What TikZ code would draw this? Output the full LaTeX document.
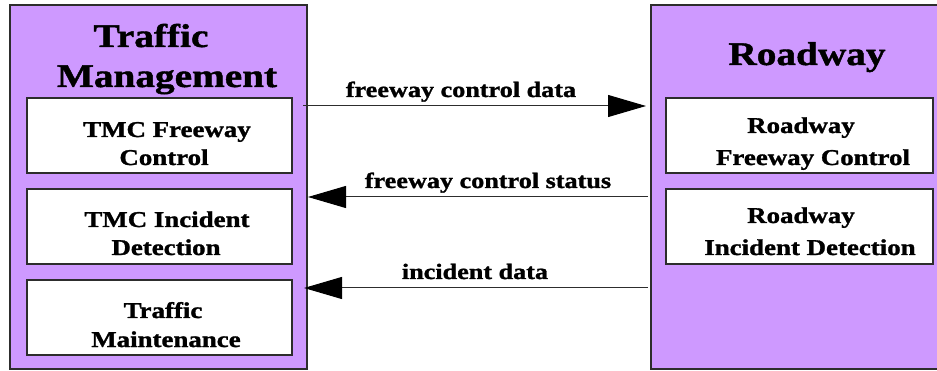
\documentclass[tikz,border=0pt]{standalone}
\usepackage{fontspec}
\newfontfamily\tbf{Liberation Serif}[FakeStretch=1.19,FakeBold=1.3]
\usetikzlibrary{arrows.meta}
\definecolor{lav}{RGB}{206,153,255}
\definecolor{edge}{RGB}{45,45,45}
\tikzset{
  bigbox/.style={draw=edge, fill=lav, line width=1.3pt, rectangle, inner sep=0pt, outer sep=0pt},
  inbox/.style={draw=edge, fill=white, line width=1.1pt, rectangle, inner sep=0pt, outer sep=0pt},
  ttl/.style={font=\tbf\bfseries\fontsize{33}{38}\selectfont, anchor=base, inner sep=0pt},
  itxt/.style={font=\tbf\bfseries\fontsize{22.6}{27}\selectfont, anchor=base, inner sep=0pt},
  ltxt/.style={font=\tbf\bfseries\fontsize{22}{26}\selectfont, anchor=base, inner sep=0pt},
  arr/.style={draw=edge, line width=1pt, -{Triangle[length=38pt,width=22pt,color=black,fill=black]}}
}
\begin{document}
\begin{tikzpicture}[x=1pt,y=-1pt]
\useasboundingbox (0,0) rectangle (937,371);
\begin{scope}
\clip (0,0) rectangle (937,371);
% big boxes
\node[bigbox, minimum width=297pt, minimum height=364pt] (TM) at (158.5,187) {};
\node[bigbox, minimum width=300pt, minimum height=364pt] (RW) at (801,187) {};
% inner boxes left
\node[inbox, minimum width=265pt, minimum height=75pt] (L1) at (159.5,135.5) {};
\node[inbox, minimum width=265pt, minimum height=75pt] (L2) at (159.5,226.5) {};
\node[inbox, minimum width=265pt, minimum height=75pt] (L3) at (159.5,317.5) {};
% inner boxes right
\node[inbox, minimum width=267pt, minimum height=75pt] (R1) at (799.5,135.5) {};
\node[inbox, minimum width=267pt, minimum height=75pt] (R2) at (799.5,226.5) {};
\end{scope}
% titles
\node[ttl] (tmA) at (151,47) {Traffic};
\node[ttl] (tmB) at (167,87) {Management};
\node[ttl] (rwA) at (807,65) {Roadway};
% inner texts left
\node[itxt] (l1a) at (167,137) {TMC Freeway};
\node[itxt] (l1b) at (164,165) {Control};
\node[itxt] (l2a) at (167,227) {TMC Incident};
\node[itxt] (l2b) at (166,255) {Detection};
\node[itxt] (l3a) at (163,318) {Traffic};
\node[itxt] (l3b) at (166,347) {Maintenance};
% inner texts right
\node[itxt] (r1a) at (801,133) {Roadway};
\node[itxt] (r1b) at (813,165) {Freeway Control};
\node[itxt] (r2a) at (801,223) {Roadway};
\node[itxt] (r2b) at (810,255) {Incident Detection};
% connectors
\coordinate (c1) at (0,106);
\coordinate (c2) at (0,197);
\coordinate (c3) at (0,288);
\draw[arr, shorten <=-4pt, shorten >=5pt] (TM.east |- c1) -- (RW.west |- c1);
\draw[arr, shorten <=3pt, shorten >=1pt] (RW.west |- c2) -- (TM.east |- c2);
\draw[arr, shorten <=3pt, shorten >=-3pt] (RW.west |- c3) -- (TM.east |- c3);
% connector labels
\node[ltxt] (d1) at (461,97) {freeway control data};
\node[ltxt] (d2) at (488,188) {freeway control status};
\node[ltxt] (d3) at (475,279) {incident data};
\end{tikzpicture}
\end{document}
